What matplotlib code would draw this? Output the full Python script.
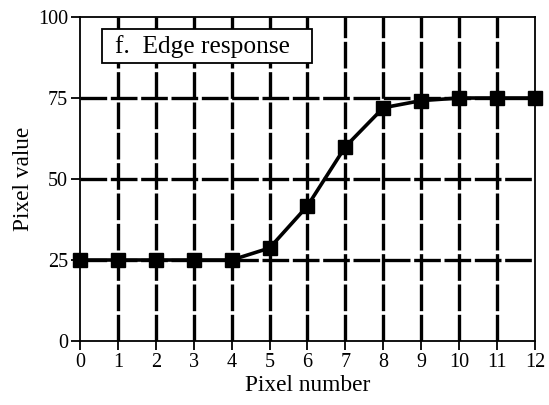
#!/usr/bin/env python
# -*- coding:utf-8 -*-

import matplotlib
matplotlib.use("Agg")
import matplotlib.pyplot as plt
from matplotlib.patches import Rectangle

pixel_number = [0, 1, 2, 3, 4, 5, 6, 7, 8, 9, 10, 11, 12]
pixel_value = [25, 25, 25, 25, 25, 28.7, 41.7, 60, 72, 74.2, 75, 75, 75]
x_ticks = list(range(0, 13))
y_ticks = [0, 25, 50, 75, 100]
title = "f.  Edge response"


def main():
    plt.rcParams["font.family"] = ["Liberation Serif", "DejaVu Serif"]
    fig = plt.figure(figsize=(5.49, 4.05), dpi=100)
    ax = fig.add_axes([0.1457, 0.158, 0.8288, 0.80])

    ax.set_xlim(0, 12)
    ax.set_ylim(0, 100)
    ax.set_xticks(x_ticks)
    ax.set_yticks(y_ticks)
    ax.tick_params(direction="out", length=6.5, width=1.3, labelsize=14.5,
                   colors="black", pad=2)

    # dashed grid, skipping the frame lines
    dash = (0, (8, 1.1))
    for x in x_ticks[1:-1]:
        ax.axvline(x, color="black", lw=2.4, linestyle=dash, zorder=1)
    for y in y_ticks[1:-1]:
        ax.axhline(y, color="black", lw=2.4, linestyle=dash, zorder=1)

    ax.plot(pixel_number, pixel_value, color="black", lw=2.6,
            marker="s", markersize=10, zorder=3, clip_on=False)

    for s in ax.spines.values():
        s.set_linewidth(1.3)

    ax.set_xlabel("Pixel number", fontsize=16.8, labelpad=2)
    ax.set_ylabel("Pixel value", fontsize=16.8, labelpad=3)

    # caption box in the upper left corner
    ax.add_patch(Rectangle((0.048, 0.858), 0.462, 0.105, transform=ax.transAxes,
                           fc="white", ec="black", lw=1.3, zorder=5))
    ax.text(0.077, 0.91, title, transform=ax.transAxes, fontsize=18.3,
            va="center", ha="left", zorder=6)

    fig.savefig("out.png", dpi=100)


if __name__ == '__main__':
    main()
